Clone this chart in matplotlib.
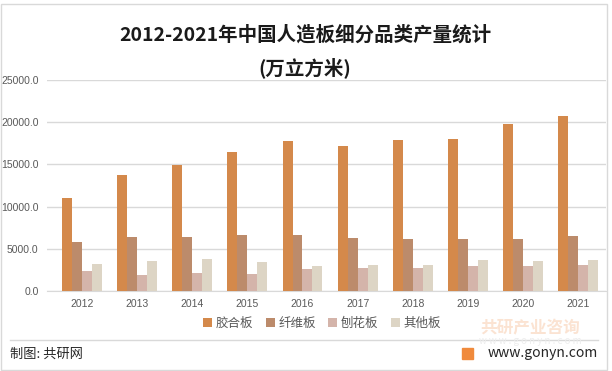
import numpy as np
import matplotlib.pyplot as plt
from matplotlib.patches import Rectangle

plt.rcParams['font.family'] = ['Noto Sans CJK SC', 'DejaVu Sans']

# ---------------- data ----------------
years = ["2012", "2013", "2014", "2015", "2016", "2017", "2018", "2019", "2020", "2021"]
series_names = ["胶合板", "纤维板", "刨花板", "其他板"]
plywood = [11000, 13750, 14950, 16480, 17790, 17200, 17900, 18030, 19800, 20750]
fiberboard = [5800, 6400, 6400, 6640, 6640, 6280, 6170, 6170, 6170, 6520]
particleboard = [2370, 1900, 2140, 2020, 2610, 2730, 2730, 2970, 2970, 3080]
others = [3200, 3560, 3800, 3440, 2970, 3080, 3080, 3680, 3560, 3680]
colors = ["#D4894B", "#BC8B6B", "#D4B4AA", "#DDD5C5"]

# ---------------- figure ----------------
W, H = 612, 371
fig = plt.figure(figsize=(W / 100, H / 100), dpi=100)

# outer frame
fig.patches.append(Rectangle((1 / W, 1 / H), (W - 6) / W, (H - 5) / H,
                             transform=fig.transFigure, fill=False,
                             edgecolor="#D9D9D9", lw=1))

ax_left, ax_right = 47, 606
ax_top, ax_bottom = 80, 291
ax = fig.add_axes([ax_left / W, 1 - ax_bottom / H,
                   (ax_right - ax_left) / W, (ax_bottom - ax_top) / H])

x = np.arange(len(years))
bw = 0.181
data = [plywood, fiberboard, particleboard, others]
for i, (vals, c, name) in enumerate(zip(data, colors, series_names)):
    ax.bar(x + (i - 1.5) * bw, vals, width=bw, color=c, label=name, zorder=3)

tick_font = ["Liberation Sans", "DejaVu Sans"]
ax.set_ylim(0, 25000)
ax.set_xlim(-0.63, 9.5)
yt = np.arange(0, 25001, 5000)
ax.set_yticks(yt)
ax.set_yticklabels([f"{v:.1f}" for v in yt], fontfamily=tick_font)
ax.set_xticks(x)
ax.set_xticklabels(years, fontfamily=tick_font)
ax.tick_params(axis="both", length=0, labelsize=7.5, colors="#595959")
ax.tick_params(axis="y", pad=6)
ax.tick_params(axis="x", pad=6)
ax.grid(axis="y", color="#D9D9D9", lw=1, zorder=0)
for s in ["top", "right", "left"]:
    ax.spines[s].set_visible(False)
ax.spines["bottom"].set_color("#D9D9D9")

# titles
fig.text(305 / W, 1 - 35 / H, "2012-2021年中国人造板细分品类产量统计",
         ha="center", va="center", fontsize=14, fontweight="bold", color="#1a1a1a")
fig.text(305 / W, 1 - 68 / H, "(万立方米)",
         ha="center", va="center", fontsize=14, fontweight="bold", color="#1a1a1a")

# legend
leg = fig.legend(loc="center", bbox_to_anchor=(322 / W, 1 - 323 / H), ncol=4,
                 frameon=False, fontsize=9, handlelength=0.7, handleheight=0.7,
                 handletextpad=0.3, columnspacing=1.0)
for t in leg.get_texts():
    t.set_color("#595959")

# footer
fig.add_artist(plt.Line2D([10 / W, 598 / W], [1 - 340 / H, 1 - 340 / H],
                          transform=fig.transFigure, color="#D9D9D9", lw=1))
fig.text(10 / W, 1 - 354 / H, "制图: 共研网", ha="left", va="center",
         fontsize=9.5, color="#262626")
fig.text(598 / W, 1 - 353 / H, "www.gonyn.com", ha="right", va="center",
         fontsize=10, color="#262626")
fig.patches.append(Rectangle((462 / W, 1 - 359 / H), 11 / W, 11 / H,
                             transform=fig.transFigure, color="#F08A3C"))
fig.text(530 / W, 1 - 328 / H, "共研产业咨询", ha="center", va="center",
         fontsize=12, fontweight="bold", color="#FBE3D2")
fig.text(530 / W, 1 - 341 / H, "w w w . g o n y n . c o m", ha="center", va="center",
         fontsize=7, color="#EDEDED")

fig.savefig("out.png", dpi=100)
